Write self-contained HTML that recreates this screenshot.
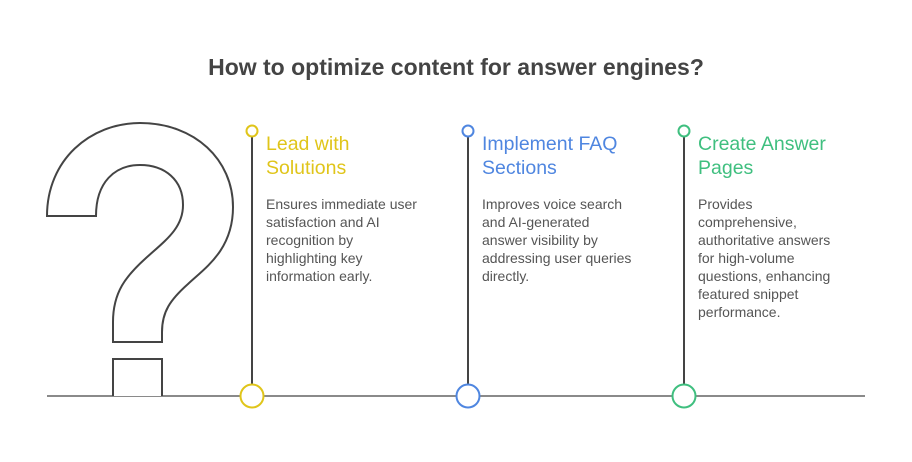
<!DOCTYPE html>
<html><head><meta charset="utf-8"><style>
body{margin:0;width:912px;height:462px;background:#fff;overflow:hidden;position:relative;font-family:"Liberation Sans",sans-serif}
.t{position:absolute;left:0;width:912px;top:54px;text-align:center;font-size:23px;font-weight:bold;color:#444}
.h{position:absolute;font-size:19.5px;line-height:24px}
.b{position:absolute;font-size:14px;line-height:18px;color:#555}
</style></head><body>
<svg width="912" height="462" style="position:absolute;left:0;top:0">
<line x1="47" y1="396" x2="865" y2="396" stroke="#8a8a8a" stroke-width="2"/>
<path d="M47,216 C47,160 90,123 140,123 C195,123 233,160 233,207 C233,250 205,268 188,284 C170,300 162,312 162,332 L162,342 L113,342 L113,322 C113,292 126,276 146,258 C166,240 183,228 183,205 C183,180 165,165 140,165 C115,165 96,182 96,216 Z" fill="#fff" stroke="#444" stroke-width="2"/>
<path d="M113,396 L113,359 L162,359 L162,396" fill="#fff" stroke="#444" stroke-width="2"/>
<g stroke-width="2" fill="#fff">
<line x1="252" y1="136" x2="252" y2="385" stroke="#444"/>
<line x1="468" y1="136" x2="468" y2="385" stroke="#444"/>
<line x1="684" y1="136" x2="684" y2="385" stroke="#444"/>
<circle cx="252" cy="131" r="5.5" stroke="#e0c51a"/>
<circle cx="468" cy="131" r="5.5" stroke="#4f86e0"/>
<circle cx="684" cy="131" r="5.5" stroke="#3fbf7f"/>
<circle cx="252" cy="396" r="11.5" stroke="#e0c51a"/>
<circle cx="468" cy="396" r="11.5" stroke="#4f86e0"/>
<circle cx="684" cy="396" r="11.5" stroke="#3fbf7f"/>
</g></svg>
<div class="t">How to optimize content for answer engines?</div>
<div class="h" style="left:266px;top:132px;color:#e0c51a">Lead with<br>Solutions</div>
<div class="h" style="left:482px;top:132px;color:#4f86e0">Implement FAQ<br>Sections</div>
<div class="h" style="left:698px;top:132px;color:#3fbf7f">Create Answer<br>Pages</div>
<div class="b" style="left:266px;top:195px">Ensures immediate user<br>satisfaction and AI<br>recognition by<br>highlighting key<br>information early.</div>
<div class="b" style="left:482px;top:195px">Improves voice search<br>and AI-generated<br>answer visibility by<br>addressing user queries<br>directly.</div>
<div class="b" style="left:698px;top:195px">Provides<br>comprehensive,<br>authoritative answers<br>for high-volume<br>questions, enhancing<br>featured snippet<br>performance.</div>
</body></html>
